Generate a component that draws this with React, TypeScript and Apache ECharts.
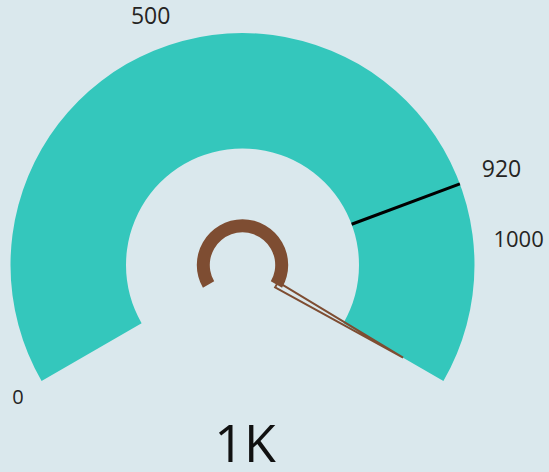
import React, { useEffect, useRef } from 'react';
import * as echarts from 'echarts';

// ---- data ----
const GAUGE_MIN = 0;
const GAUGE_MAX = 1165;
const VALUE = 1165;
const TARGET = 920;
const TICK_LABELS = [0, 500, 920, 1000];
const TICK_STEP = 5;

// ---- styles / layout ----
const BG = '#dae8ed';
const TEAL = '#34c7bc';
const BROWN = '#7e4d32';
const TEXT = '#252423';
const FONT = '"Segoe UI", "Open Sans", "Noto Sans", sans-serif';
const CX = 242.5;
const CY = 265;
const R_OUT = 232;
const R_IN = 116.5;

const LABEL_LAYOUT: Record<number, { r: number; pad: number[]; size: number }> = {
  0: { r: 266, pad: [0, 0, 4, 0], size: 20 },
  500: { r: 273, pad: [0, 24, 0, 0], size: 23 },
  920: { r: 297.5, pad: [15, 0, 0, 0], size: 23 },
  1000: { r: 302, pad: [0, 0, 11, 0], size: 22 },
};

const base = () => ({
  type: 'gauge',
  center: [CX, CY],
  radius: R_OUT,
  startAngle: 210,
  endAngle: -30,
  min: GAUGE_MIN,
  max: GAUGE_MAX,
  splitNumber: (GAUGE_MAX - GAUGE_MIN) / TICK_STEP,
  axisLine: { show: false },
  axisTick: { show: false },
  splitLine: { show: false, length: 0, distance: 0 },
  axisLabel: { show: false },
  pointer: { show: false },
  anchor: { show: false },
  title: { show: false },
  detail: { show: false },
  progress: { show: false },
  silent: true,
});

export default function App() {
  const ref = useRef<HTMLDivElement>(null);
  useEffect(() => {
    if (!ref.current) return;
    const chart = echarts.init(ref.current, undefined, { renderer: 'svg' });

    const labelSeries = TICK_LABELS.map((v) => {
      const lay = LABEL_LAYOUT[v];
      return {
        ...base(),
        name: 'label-' + v,
        data: [{ value: GAUGE_MIN }],
        axisLabel: {
          show: true,
          distance: R_OUT - lay.r,
          color: TEXT,
          fontSize: lay.size,
          fontFamily: FONT,
          formatter: (x: number) => (Math.round(x) === v ? `{t|${v}}` : ''),
          rich: {
            t: { fontSize: lay.size, fontFamily: FONT, color: TEXT, padding: lay.pad },
          },
        },
      };
    });

    const option: any = {
      animation: false,
      backgroundColor: BG,
      series: [
        {
          ...base(),
          name: 'band',
          data: [{ value: VALUE }],
          axisLine: {
            show: true,
            roundCap: false,
            lineStyle: { width: R_OUT - R_IN, color: [[1, TEAL]] },
          },
        },
        {
          ...base(),
          name: 'target',
          data: [{ value: TARGET }],
          pointer: {
            show: true,
            icon: `path://M0,0L3,0L3,${R_OUT - R_IN}L0,${R_OUT - R_IN}ZM1.5,${R_OUT}`,
            length: R_OUT,
            width: 3,
            keepAspect: false,
            itemStyle: { color: '#000000' },
          },
        },
        {
          ...base(),
          name: 'ring',
          radius: 45.7,
          data: [{ value: VALUE }],
          progress: {
            show: true,
            overlap: true,
            width: 13,
            roundCap: false,
            itemStyle: { color: BROWN },
          },
        },
        {
          ...base(),
          name: 'needle',
          data: [{ value: VALUE }],
          pointer: {
            show: true,
            icon: 'path://M3,0L6,146L0,146ZM3,185.4',
            length: 185.4,
            width: 6,
            keepAspect: false,
            itemStyle: { color: 'rgba(0,0,0,0)', borderColor: BROWN, borderWidth: 2 },
          },
          detail: {
            show: true,
            offsetCenter: [2.5, 176],
            fontSize: 52,
            lineHeight: 52,
            fontWeight: 'normal',
            fontFamily: FONT,
            color: '#111111',
            valueAnimation: false,
            formatter: (v: number) => `${Math.round(v / 1000)}K`,
          },
        },
        ...labelSeries,
      ],
    };
    chart.setOption(option);
    return () => chart.dispose();
  }, []);

  return (
    <div
      ref={ref}
      style={{ position: 'fixed', left: 0, top: 0, width: 549, height: 472, background: BG }}
    />
  );
}
